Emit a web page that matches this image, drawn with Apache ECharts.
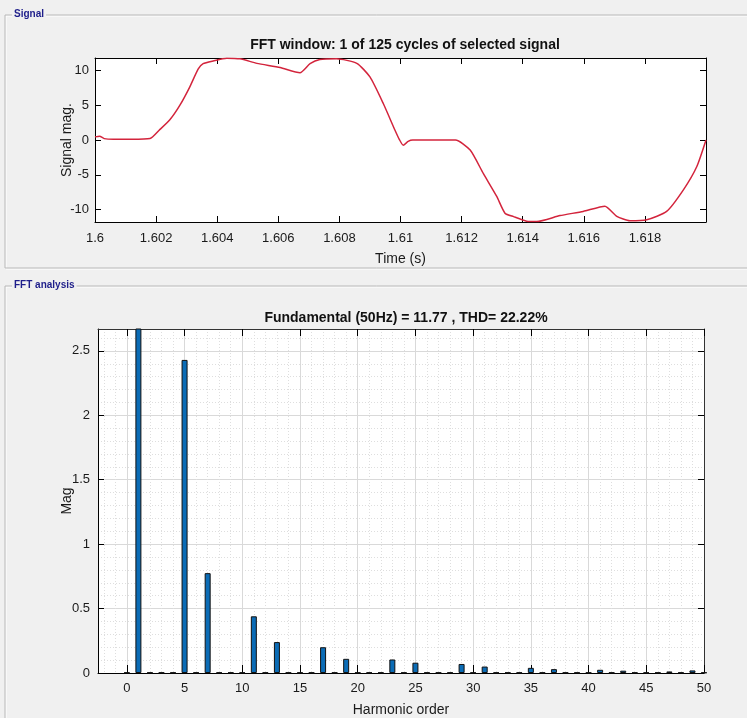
<!DOCTYPE html>
<html>
<head>
<meta charset="utf-8">
<script src="https://cdn.jsdelivr.net/npm/echarts@6/dist/echarts.min.js"></script>
<style>
  html, body { margin: 0; padding: 0; background: #f0f0f0; }
  #chart { width: 747px; height: 718px; }
</style>
</head>
<body>
<div id="chart"></div>
<script>
  // signal window (top panel)
  var sigTime = [1.6, 1.60015, 1.6003, 1.6006, 1.6012, 1.6018, 1.6021, 1.60245, 1.60278, 1.6031,
    1.60338, 1.60354, 1.60387, 1.60431, 1.60475, 1.6053, 1.60606, 1.60671, 1.60704, 1.60736,
    1.60791, 1.60857, 1.609, 1.60944, 1.60982, 1.60996, 1.61009, 1.61025, 1.6104, 1.6118,
    1.61228, 1.61271, 1.61315, 1.61342, 1.6137, 1.61413, 1.61446, 1.61522, 1.61598, 1.61669,
    1.61708, 1.61751, 1.61806, 1.61871, 1.61926, 1.6197, 1.62];
  var sigMag = [0.45, 0.55, 0.2, 0.1, 0.1, 0.2, 1.4, 2.9, 5.0, 7.6,
    10.2, 10.95, 11.35, 11.75, 11.65, 11.0, 10.4, 9.65, 10.95, 11.55,
    11.65, 11.0, 9.05, 5.2, 1.4, 0.1, -0.75, -0.2, 0, 0,
    -1.45, -4.8, -8.1, -10.5, -11.0, -11.65, -11.7, -10.85, -10.25, -9.5,
    -10.95, -11.6, -11.45, -10.25, -7.15, -3.8, 0];
  var sigYTicks = [-10, -5, 0, 5, 10];

  // FFT (bottom panel)
  var harmonics = [0, 1, 2, 3, 4, 5, 6, 7, 8, 9, 10, 11, 12, 13, 14, 15, 16, 17, 18, 19, 20,
    21, 22, 23, 24, 25, 26, 27, 28, 29, 30, 31, 32, 33, 34, 35, 36, 37, 38, 39, 40,
    41, 42, 43, 44, 45, 46, 47, 48, 49, 50];
  var harmMag = [0.004, 11.77, 0.004, 0.004, 0.004, 2.43, 0.004, 0.775, 0.004, 0.004, 0.004,
    0.44, 0.004, 0.24, 0.004, 0.004, 0.004, 0.20, 0.004, 0.11, 0.004,
    0.004, 0.004, 0.105, 0.004, 0.08, 0.004, 0.004, 0.004, 0.07, 0.004,
    0.05, 0.004, 0.004, 0.004, 0.04, 0.004, 0.03, 0.004, 0.004, 0.004,
    0.025, 0.004, 0.018, 0.004, 0.004, 0.004, 0.012, 0.004, 0.02, 0.004];
  var fftXTicks = [0, 5, 10, 15, 20, 25, 30, 35, 40, 45, 50];
  var fftYTicks = [0, 0.5, 1, 1.5, 2, 2.5];

  // minor grid positions (every 1 harmonic, every 0.1 mag)
  var minorX = [], minorY = [];
  for (var i = -2; i < 50; i++) if (i % 5 !== 0) minorX.push(i);
  for (var j = 1; j <= 26; j++) if (j % 5 !== 0) minorY.push(j / 10);

  var FONT = "'Liberation Sans Narrow', 'Liberation Sans', Arial, sans-serif";
  var lbl = { color: '#1a1a1a', fontSize: 13, fontFamily: FONT };
  var nameStyle = { fontSize: 14, color: '#1a1a1a', fontFamily: FONT };

  var chart = echarts.init(document.getElementById('chart'));

  function frame(y, h, text) {
    return [
      { type: 'rect', shape: { x: 5, y: y, width: 760, height: h }, style: { fill: 'none', stroke: '#b9b9b9', lineWidth: 1 }, z: 1 },
      { type: 'rect', shape: { x: 6, y: y + 1, width: 760, height: h }, style: { fill: 'none', stroke: '#ffffff', lineWidth: 1 }, z: 0 },
      { type: 'text', x: 12, y: y - 6, style: { text: text, fill: '#1e1e8a', font: 'bold 10px ' + FONT, backgroundColor: '#f0f0f0', padding: [0, 2] }, z: 5 }
    ];
  }

  chart.setOption({
    backgroundColor: '#f0f0f0',
    animation: false,
    graphic: frame(15, 253, 'Signal').concat(frame(286, 450, 'FFT analysis')),
    title: [
      { text: 'FFT window: 1 of 125 cycles of selected signal', left: 400, top: 33, textAlign: 'center',
        textStyle: { fontSize: 14, fontWeight: 'bold', color: '#111', fontFamily: FONT } },
      { text: 'Fundamental (50Hz) = 11.77 , THD= 22.22%', left: 401, top: 306, textAlign: 'center',
        textStyle: { fontSize: 14, fontWeight: 'bold', color: '#111', fontFamily: FONT } }
    ],
    grid: [
      { left: 95, right: 41, top: 58, bottom: 496, show: true, backgroundColor: '#fff', borderWidth: 0 },
      { left: 98, right: 43, top: 329, bottom: 45, show: true, backgroundColor: '#fff', borderWidth: 0 }
    ],
    xAxis: [
      { gridIndex: 0, type: 'value', min: 1.6, max: 1.62, interval: 0.002, position: 'bottom',
        name: 'Time (s)', nameLocation: 'middle', nameGap: 30, nameTextStyle: nameStyle,
        axisLine: { onZero: false, lineStyle: { color: '#000', width: 1 } },
        axisTick: { inside: true, length: 6, lineStyle: { color: '#000' } },
        axisLabel: Object.assign({ margin: 10, showMaxLabel: false }, lbl),
        splitLine: { show: false } },
      { gridIndex: 0, type: 'value', min: 1.6, max: 1.62, interval: 0.002, position: 'top',
        axisLine: { onZero: false, lineStyle: { color: '#000', width: 1 } },
        axisTick: { inside: true, length: 6, lineStyle: { color: '#000' } },
        axisLabel: { show: false }, splitLine: { show: false } },
      { gridIndex: 1, type: 'value', min: -2.5, max: 50, position: 'bottom',
        name: 'Harmonic order', nameLocation: 'middle', nameGap: 30, nameTextStyle: nameStyle,
        axisLine: { onZero: false, lineStyle: { color: '#000', width: 1 } },
        axisTick: { inside: true, length: 8, customValues: fftXTicks, lineStyle: { color: '#000' } },
        axisLabel: Object.assign({ margin: 9, customValues: fftXTicks }, lbl),
        splitLine: { show: true, lineStyle: { color: '#d9d9d9', width: 1 } } },
      { gridIndex: 1, type: 'value', min: -2.5, max: 50, position: 'top',
        axisLine: { onZero: false, lineStyle: { color: '#333', width: 1 } },
        axisTick: { inside: true, length: 7, customValues: fftXTicks, lineStyle: { color: '#000' } },
        axisLabel: { show: false }, splitLine: { show: false } },
      { gridIndex: 1, type: 'value', min: -2.5, max: 50, position: 'bottom',
        axisLine: { show: false, onZero: false },
        axisTick: { show: false, customValues: minorX },
        axisLabel: { show: false, customValues: minorX },
        splitLine: { show: true, lineStyle: { color: '#dedede', width: 1, type: [1, 2] } } }
    ],
    yAxis: [
      { gridIndex: 0, type: 'value', min: -11.77, max: 11.77, position: 'left',
        name: 'Signal mag.', nameLocation: 'middle', nameGap: 21, nameMoveOverlap: false, nameTextStyle: nameStyle,
        axisLine: { onZero: false, lineStyle: { color: '#000', width: 1 } },
        axisTick: { inside: true, length: 6, customValues: sigYTicks, lineStyle: { color: '#000' } },
        axisLabel: Object.assign({ margin: 6, customValues: sigYTicks }, lbl),
        splitLine: { show: false } },
      { gridIndex: 0, type: 'value', min: -11.77, max: 11.77, position: 'right',
        axisLine: { onZero: false, lineStyle: { color: '#000', width: 1 } },
        axisTick: { inside: true, length: 6, customValues: sigYTicks, lineStyle: { color: '#000' } },
        axisLabel: { show: false }, splitLine: { show: false } },
      { gridIndex: 1, type: 'value', min: 0, max: 2.67, position: 'left',
        name: 'Mag', nameLocation: 'middle', nameGap: 24, nameMoveOverlap: false, nameTextStyle: nameStyle,
        axisLine: { onZero: false, lineStyle: { color: '#000', width: 1 } },
        axisTick: { inside: true, length: 6, customValues: fftYTicks, lineStyle: { color: '#000' } },
        axisLabel: Object.assign({ margin: 8, customValues: fftYTicks }, lbl),
        splitLine: { show: true, lineStyle: { color: '#d9d9d9', width: 1 } } },
      { gridIndex: 1, type: 'value', min: 0, max: 2.67, position: 'right',
        axisLine: { onZero: false, lineStyle: { color: '#333', width: 1 } },
        axisTick: { inside: true, length: 6, customValues: fftYTicks, lineStyle: { color: '#000' } },
        axisLabel: { show: false }, splitLine: { show: false } },
      { gridIndex: 1, type: 'value', min: 0, max: 2.67, position: 'left',
        axisLine: { show: false, onZero: false },
        axisTick: { show: false, customValues: minorY },
        axisLabel: { show: false, customValues: minorY },
        splitLine: { show: true, lineStyle: { color: '#dedede', width: 1, type: [1, 2] } } }
    ],
    series: [
      { type: 'line', xAxisIndex: 0, yAxisIndex: 0, smooth: 0.2, showSymbol: false,
        lineStyle: { color: '#d3243c', width: 1.5 },
        data: sigTime.map(function (t, k) { return [t, sigMag[k]]; }), z: 3 },
      { type: 'bar', xAxisIndex: 2, yAxisIndex: 2, barWidth: 6, clip: true,
        itemStyle: { color: '#0b6cb6', borderColor: '#111', borderWidth: 1 },
        data: harmonics.map(function (h, k) { return [h, harmMag[k]]; }), z: 3 }
    ]
  });
</script>
</body>
</html>
